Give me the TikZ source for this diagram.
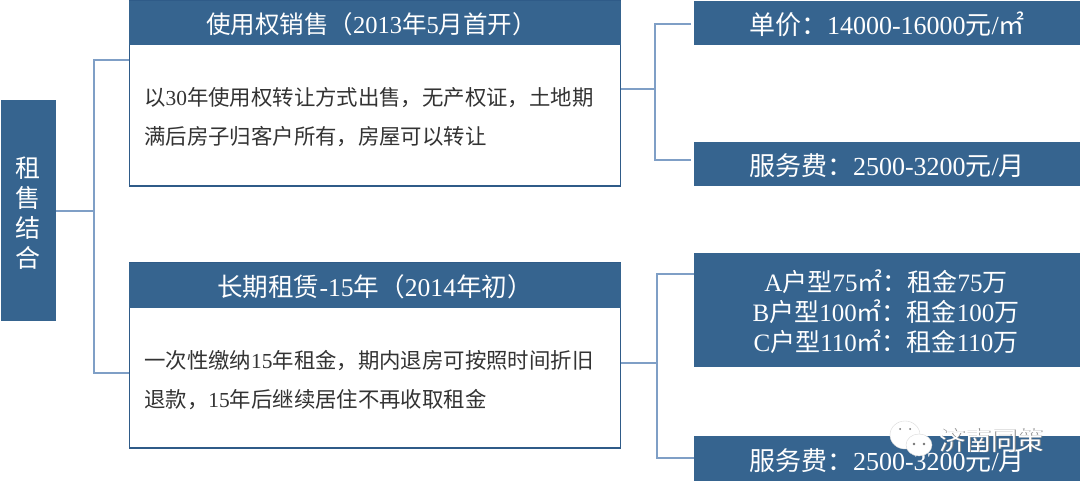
\documentclass[tikz,border=0pt]{standalone}
\usepackage{fontspec}
\setmainfont{Liberation Serif}
\newfontfamily\cjk{Noto Sans CJK SC}
\newcommand{\lat}[1]{{\rmfamily #1}}
\definecolor{boxblue}{HTML}{36648F}
\definecolor{edgeblue}{HTML}{2F5B88}
\definecolor{linkblue}{HTML}{7F9FC6}
\tikzset{
  barbox/.style={fill=boxblue,draw=none,text=white,inner sep=0pt,align=center,text depth=3pt},
  bartext/.style={text=white,inner sep=0pt,align=center},
  bodybox/.style={fill=white,draw=edgeblue,line width=1.4pt,inner sep=0pt,minimum width=491,minimum height=185},
  bodytext/.style={anchor=west,inner sep=0pt,align=left,text=black!80,font=\cjk\fontsize{21.4}{39}\selectfont},
  link/.style={draw=linkblue,line width=1.1pt},
  bubble/.style={fill=white,draw=black!15,line width=0.4pt}
}
\begin{document}
\begin{tikzpicture}[x=1pt,y=-1pt]
            \useasboundingbox (0,0) rectangle (1080,489);
            \node[barbox,minimum width=55,minimum height=221] (hub) at (28.5,210.5) {};
            \node[bartext,font=\cjk\fontsize{25}{30}\selectfont] (hubText) at (28.5,213) {租\\售\\结\\合};
            \node[bodybox] (sale) at (375,93.5) {};
            \node[barbox,minimum width=492,minimum height=44,text height=23.6pt,font=\cjk\fontsize{24.5}{30}\selectfont] (saleHead) at (375,23) {使用权销售（\lat{2013}年\lat{5}月首开）\kern7pt};
            \node[bodytext] (saleText) at (144,117.5) {以\lat{30}年使用权转让方式出售，无产权证，土地期\\满后房子归客户所有，房屋可以转让};
            \node[bodybox] (lease) at (375,355.5) {};
            \node[barbox,minimum width=492,minimum height=45,text height=24.8pt,font=\cjk\fontsize{25.6}{30}\selectfont] (leaseHead) at (375,285.5) {长期租赁\lat{-15}年（\lat{2014}年初）};
            \node[bodytext] (leaseText) at (144,380) {一次性缴纳\lat{15}年租金，期内退房可按照时间折旧\\退款，\lat{15}年后继续居住不再收取租金};
            \node[barbox,minimum width=386,minimum height=44,text height=25.5pt,font=\cjk\fontsize{26}{30}\selectfont] (price) at (887,23) {单价：\lat{14000-16000}元\lat{/}㎡};
            \node[barbox,minimum width=386,minimum height=44,text height=27pt,font=\cjk\fontsize{26}{30}\selectfont] (feeA) at (887,164) {服务费：\lat{2500-3200}元\lat{/}月};
            \node[barbox,minimum width=386,minimum height=114] (rent) at (887,310) {};
            \node[bartext,font=\cjk\fontsize{25}{30}\selectfont] (rentText) at (886,312) {\lat{A}户型\lat{75}㎡：租金\lat{75}万\\\lat{B}户型\lat{100}㎡：租金\lat{100}万\\\lat{C}户型\lat{110}㎡：租金\lat{110}万};
            \node[barbox,minimum width=386,minimum height=45,text height=27pt,font=\cjk\fontsize{26}{30}\selectfont] (feeB) at (887,458.5) {服务费：\lat{2500-3200}元\lat{/}月};
            \coordinate (hubStem) at (94,211);
            \coordinate (saleIn) at (129,60);
            \coordinate (leaseIn) at (129,373);
            \coordinate (saleOut) at (621,89);
            \coordinate (saleStem) at (655,89);
            \coordinate (priceIn) at (691,24);
            \coordinate (feeAIn) at (691,160);
            \coordinate (leaseOut) at (621,363);
            \coordinate (leaseStem) at (657,363);
            \coordinate (rentIn) at (694,274);
            \coordinate (feeBIn) at (694,458);
            \draw[link] (hub.east |- hubStem) -- (hubStem);
            \draw[link] (saleIn) -| (hubStem) |- (leaseIn);
            \draw[link] (saleOut) -- (saleStem);
            \draw[link] (priceIn) -| (saleStem) |- (feeAIn);
            \draw[link] (leaseOut) -- (leaseStem);
            \draw[link] (rentIn) -| (leaseStem) |- (feeBIn);
            \draw[bubble] (905,435) ellipse (15 and 14);
            \draw[bubble] (919,445) ellipse (13 and 11);
            \fill[black!55] (914,444) circle (1.3) (924,444) circle (1.3) (900,429) circle (1) (910,429) circle (1);
            \node[font=\cjk\fontsize{26}{26}\selectfont,text=black!45,inner sep=0pt] (markShade) at (992.5,441) {济南同策};
            \node[font=\cjk\fontsize{26}{26}\selectfont,text=white,inner sep=0pt] (mark) at (991.7,440.2) {济南同策};
        \end{tikzpicture}
\end{document}
